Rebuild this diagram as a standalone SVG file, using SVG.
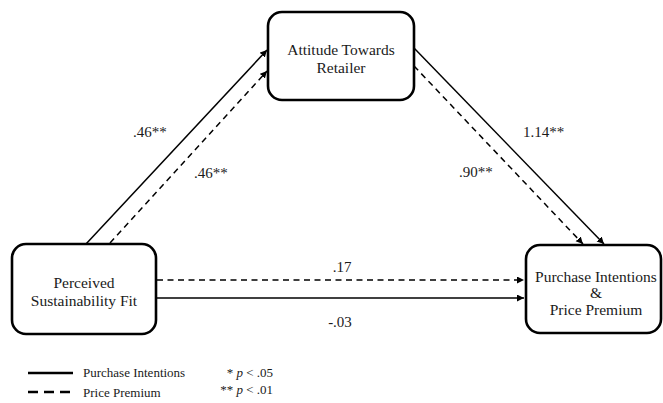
<svg xmlns="http://www.w3.org/2000/svg" width="663" height="403" viewBox="0 0 663 403">
<defs>
<style>
.box{fill:#fff;stroke:#000;stroke-width:2.6}
.t{font-family:"Liberation Serif","Times New Roman",serif;font-size:15.5px;fill:#1a1a1a;text-anchor:middle}
.lab{font-family:"Liberation Serif","Times New Roman",serif;font-size:15px;fill:#1a1a1a}
.leg{font-family:"Liberation Serif","Times New Roman",serif;font-size:13px;fill:#1a1a1a}
.c{fill:none;stroke:#000;stroke-width:1.5}
.d{stroke-dasharray:6,4.5}
</style>
<marker id="ah" markerWidth="8" markerHeight="8" refX="7" refY="3.5" orient="auto" markerUnits="userSpaceOnUse">
<path d="M0,0 L7,3.5 L0,7 Z" fill="#000"/>
</marker>
</defs>
<g id="connectors">
<line class="c" x1="86" y1="244" x2="267" y2="50" marker-end="url(#ah)"/>
<line class="c d" x1="110" y1="243" x2="267" y2="71" marker-end="url(#ah)"/>
<line class="c" x1="414" y1="48" x2="604" y2="244" marker-end="url(#ah)"/>
<line class="c d" x1="414" y1="66" x2="583" y2="244" marker-end="url(#ah)"/>
<line class="c d" x1="157" y1="280" x2="524" y2="280" marker-end="url(#ah)"/>
<line class="c" x1="157" y1="298" x2="524" y2="298" marker-end="url(#ah)"/>
</g>
<g id="node-attitude">
<rect class="box" x="268" y="12" width="146" height="88" rx="14"/>
<text class="t" x="341" y="55">Attitude Towards</text>
<text class="t" x="341" y="73">Retailer</text>
</g>
<g id="node-fit">
<rect class="box" x="12" y="244" width="144" height="90" rx="14"/>
<text class="t" x="84" y="288">Perceived</text>
<text class="t" x="84" y="306">Sustainability Fit</text>
</g>
<g id="node-outcome">
<rect class="box" x="526" y="245" width="135" height="88" rx="14"/>
<text class="t" x="596" y="282">Purchase Intentions</text>
<text class="t" x="596" y="298">&amp;</text>
<text class="t" x="596" y="315">Price Premium</text>
</g>
<g id="labels">
<text class="lab" x="133" y="137">.46**</text>
<text class="lab" x="194" y="178">.46**</text>
<text class="lab" x="523" y="137">1.14**</text>
<text class="lab" x="459" y="177">.90**</text>
<text class="lab" x="342" y="272" text-anchor="middle">.17</text>
<text class="lab" x="340" y="327" text-anchor="middle">-.03</text>
</g>
<g id="legend">
<line x1="28" y1="373" x2="73" y2="373" stroke="#000" stroke-width="2.5"/>
<line x1="28" y1="392" x2="73" y2="392" stroke="#000" stroke-width="2.5" stroke-dasharray="10,6"/>
<text class="leg" x="83" y="377">Purchase Intentions</text>
<text class="leg" x="83" y="397">Price Premium</text>
<text class="leg" x="273" y="377" text-anchor="end">* <tspan font-style="italic">p</tspan> &lt; .05</text>
<text class="leg" x="273" y="394" text-anchor="end">** <tspan font-style="italic">p</tspan> &lt; .01</text>
</g>
</svg>
